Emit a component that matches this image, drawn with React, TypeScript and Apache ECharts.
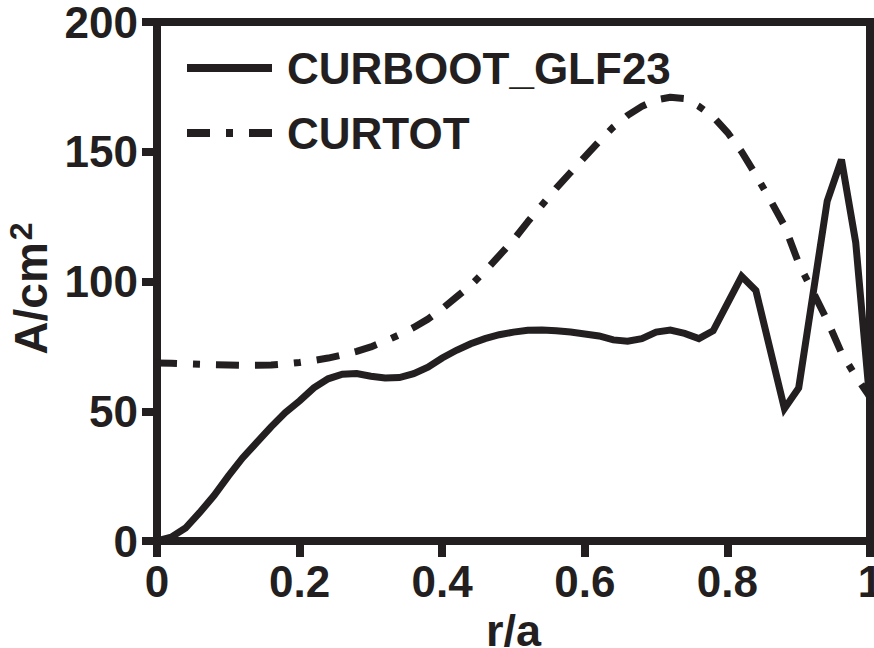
import React, { useEffect, useRef } from "react";
import * as echarts from "echarts";

const xTickLabels = ["0", "0.2", "0.4", "0.6", "0.8", "1"];
const yTickLabels = ["0", "50", "100", "150", "200"];

const bootR = [0, 0.02, 0.04, 0.06, 0.08, 0.1, 0.12, 0.14, 0.16, 0.18, 0.2, 0.22, 0.24, 0.26, 0.28, 0.3, 0.32, 0.34, 0.36, 0.38, 0.4, 0.42, 0.44, 0.46, 0.48, 0.5, 0.52, 0.54, 0.56, 0.58, 0.6, 0.62, 0.64, 0.66, 0.68, 0.7, 0.72, 0.74, 0.76, 0.78, 0.82, 0.84, 0.88, 0.9, 0.94, 0.96, 0.98, 1.0];
const bootVal = [0, 1.5, 5, 11, 17.5, 25, 32, 38, 44, 49.5, 54, 59, 62.5, 64.3, 64.5, 63.5, 62.8, 63, 64.5, 67, 70.5, 73.5, 76, 78, 79.5, 80.5, 81.2, 81.3, 81, 80.5, 79.8, 79, 77.5, 77, 78, 80.5, 81.3, 80, 78, 81, 102, 96.5, 51, 59, 131, 147, 115, 53];

const totR = [0, 0.02, 0.04, 0.06, 0.08, 0.1, 0.12, 0.14, 0.16, 0.18, 0.2, 0.22, 0.24, 0.26, 0.28, 0.3, 0.32, 0.34, 0.36, 0.38, 0.4, 0.42, 0.44, 0.46, 0.48, 0.5, 0.52, 0.54, 0.56, 0.58, 0.6, 0.62, 0.64, 0.66, 0.68, 0.7, 0.72, 0.74, 0.76, 0.78, 0.8, 0.82, 0.84, 0.86, 0.88, 0.9, 0.92, 0.94, 0.96, 0.98, 1.0];
const totVal = [68.6, 68.5, 68.3, 68.1, 67.9, 67.8, 67.7, 67.7, 67.8, 68.2, 68.8, 69.6, 70.5, 71.7, 73.1, 74.8, 77, 79.5, 82.3, 85.5, 89.5, 94, 98.5, 104, 110, 116, 123, 129.5, 136, 142, 148, 154, 159.5, 164, 167.5, 170, 171, 170.5, 167.5, 163.5, 157.5, 150, 141, 131.5, 121.5, 107, 96, 85, 72.5, 63.5, 55.5];

const seriesNames = ["CURBOOT_GLF23", "CURTOT"];

const INK = "#231f20";
const FONT = "'Liberation Sans', Arial, Helvetica, sans-serif";

export default function App() {
  const ref = useRef<HTMLDivElement>(null);
  useEffect(() => {
    if (!ref.current) return;
    const chart = echarts.init(ref.current, undefined, { renderer: "svg" });
    const pairs = (xs: number[], ys: number[]) => xs.map((x, i) => [x, ys[i]]);
    chart.setOption({
      animation: false,
      backgroundColor: "#ffffff",
      grid: {
        left: 157,
        right: 4,
        top: 22,
        bottom: 107,
        outerBoundsMode: "none",
        containLabel: false,
        show: true,
        borderWidth: 8,
        borderColor: INK,
        backgroundColor: "transparent",
      },
      legend: {
        orient: "vertical",
        left: 178,
        top: 38,
        itemWidth: 85,
        itemHeight: 2,
        itemGap: 15,
        selectedMode: false,
        itemStyle: { opacity: 0 },
        lineStyle: { width: 8, dashOffset: 39, cap: "butt" },
        textStyle: {
          fontFamily: FONT,
          fontWeight: "bold",
          fontSize: 44,
          lineHeight: 44,
          color: INK,
          padding: [0, 0, 6, 10],
        },
        data: seriesNames,
      },
      xAxis: {
        type: "value",
        min: 0,
        max: 1,
        interval: 0.2,
        name: "r/a",
        nameLocation: "middle",
        nameGap: 59,
        nameTextStyle: { fontFamily: FONT, fontWeight: "bold", fontSize: 45, lineHeight: 40, color: INK },
        axisLine: { show: true, lineStyle: { color: INK, width: 8 } },
        axisTick: { show: true, length: 16, lineStyle: { color: INK, width: 8 } },
        splitLine: { show: false },
        axisLabel: {
          fontFamily: FONT,
          fontWeight: "bold",
          fontSize: 44,
          lineHeight: 36,
          color: INK,
          margin: 22,
          formatter: (v: number) => xTickLabels[Math.round(v * 5)] ?? "",
        },
      },
      yAxis: {
        type: "value",
        min: 0,
        max: 200,
        interval: 50,
        name: "{a|A/cm}{s|2}",
        nameLocation: "middle",
        nameGap: 99,
        nameRotate: 90,
        nameTextStyle: {
          fontFamily: FONT,
          fontWeight: "bold",
          fontSize: 46,
          color: INK,
          padding: [0, 14, 0, 0],
          rich: {
            a: { fontFamily: FONT, fontWeight: "bold", fontSize: 46, color: INK },
            s: { fontFamily: FONT, fontWeight: "bold", fontSize: 32, color: INK, verticalAlign: "top", padding: [0, 0, 20, 2] },
          },
        },
        axisLine: { show: true, lineStyle: { color: INK, width: 8 } },
        axisTick: { show: true, length: 15, lineStyle: { color: INK, width: 8 } },
        splitLine: { show: false },
        axisLabel: {
          fontFamily: FONT,
          fontWeight: "bold",
          fontSize: 44,
          lineHeight: 36,
          color: INK,
          margin: 19,
          formatter: (v: number) => yTickLabels[Math.round(v / 50)] ?? "",
        },
      },
      series: [
        {
          name: seriesNames[0],
          type: "line",
          data: pairs(bootR, bootVal),
          symbol: "none",
          smooth: false,
          lineStyle: { color: INK, width: 7, join: "miter" },
          itemStyle: { color: INK },
          z: 3,
        },
        {
          name: seriesNames[1],
          type: "line",
          data: pairs(totR, totVal),
          symbol: "none",
          smooth: false,
          lineStyle: { color: INK, width: 7, type: [23, 16, 23, 16, 7, 16], dashOffset: 42, cap: "butt" },
          itemStyle: { color: INK },
          z: 2,
        },
      ],
    });
    return () => chart.dispose();
  }, []);
  return <div ref={ref} style={{ width: 874, height: 648, position: "absolute", left: 0, top: 0 }} />;
}
